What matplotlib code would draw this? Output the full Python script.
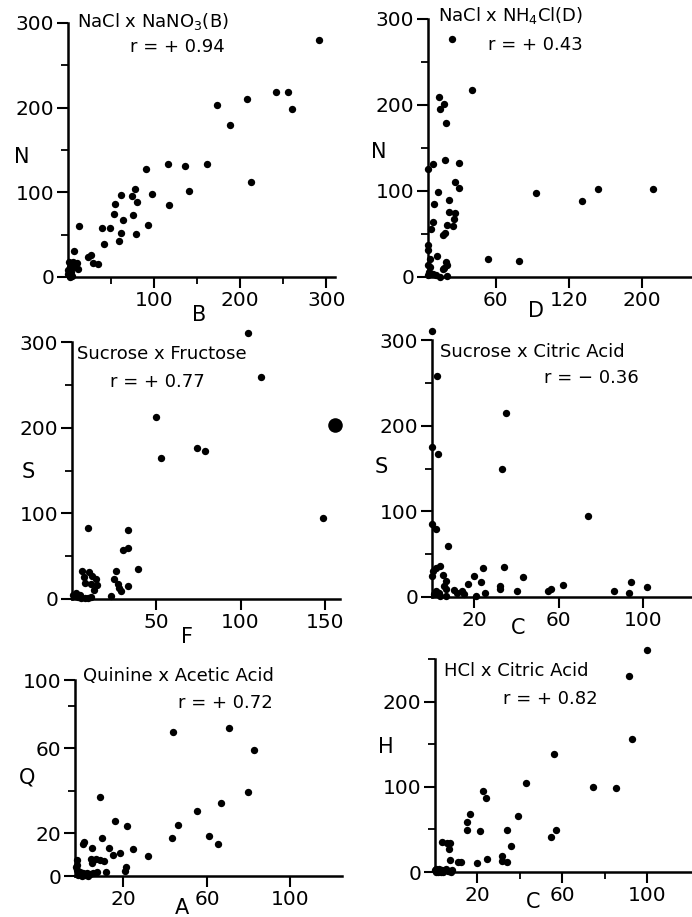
import numpy as np
import matplotlib
matplotlib.use("Agg")
import matplotlib.pyplot as plt

W, H = 692, 917

# NaCl x NaNO3 (B)
b_x = [292, 173, 208, 242, 255, 260, 188, 213, 116, 136, 161, 141, 90, 97, 117, 78, 74, 80, 61, 55, 53, 64,
       75, 61, 59, 79, 93, 39, 49, 42, 13, 27, 23, 29, 35, 7, 1, 6, 10, 2, 8, 0, 4, 12, 1, 5, 0, 2]
b_y = [280, 203, 210, 219, 219, 198, 180, 112, 134, 131, 133, 101, 127, 98, 85, 104, 96, 89, 97, 86, 75, 67,
       73, 52, 43, 51, 61, 58, 58, 39, 60, 26, 24, 17, 15, 31, 18, 18, 16, 12, 12, 8, 6, 9, 2, 1, 4, 0]

# NaCl x NH4Cl (D)
d_x = [21, 39, 10, 14, 11, 16, 15, 27, 4, 0, 24, 27, 9, 19, 5, 19, 24, 23, 22, 17, 15, 13, 4, 3, 93, 134,
       152, 212, 53, 79, 0, 0, 2, 8, 0, 2, 1, 4, 7, 0, 16, 17, 14, 11, 17, 13]
d_y = [277, 217, 209, 201, 195, 179, 136, 133, 131, 126, 111, 103, 99, 89, 85, 76, 74, 67, 59, 60, 51, 49,
       64, 56, 98, 88, 102, 102, 21, 19, 37, 31, 21, 25, 14, 12, 6, 4, 2, 2, 17, 14, 10, 0, 1, 9]

# Sucrose x Fructose
f_x = [104.6, 112, 50, 53, 74, 79, 149, 9.5, 33, 30, 33, 39, 26, 25, 27, 28, 29, 33, 23, 6, 10, 12, 14, 7,
       8, 11, 15, 13, 1.6, 3.6, 5.5, 7.5, 9.5, 11, 0.6, 2.5, 4.5]
f_y = [311, 259, 213, 165, 176, 173, 94, 83, 80, 57, 59, 35, 33, 23, 18, 13, 9, 15, 4, 33, 31, 27, 23, 26,
       19, 18, 16, 11, 3, 2, 1.5, 1, 1, 2, 5, 7, 5]
f_big_x = [156]
f_big_y = [203]

# Sucrose x Citric Acid
c_x = [0, 2.5, 0, 3, 35, 33, 74, 0, 2, 7.5, 0.6, 2, 3.8, 0, 5.4, 6.6, 5.8, 6.6, 2, 3.5, 1, 10.6, 12, 14,
       15, 17, 20, 23, 24, 25, 21, 6.6, 4, 34, 32, 32, 40, 43, 55, 56.5, 62, 86, 93, 94, 101.5]
c_y = [310, 258, 175, 167, 215, 149, 94, 85, 79, 60, 30, 34, 36, 25, 26, 19, 13, 9, 7, 5, 3, 8, 5, 7,
       3, 15, 25, 18, 34, 5, 1, 1, 1, 35, 13, 9, 7, 23, 7, 9, 14, 7, 5, 17, 12]

# Quinine x Acetic Acid
a_x = [44, 70.4, 82.7, 80, 66.9, 55.2, 46.4, 43.5, 61, 65.3, 10.6, 16.8, 21.7, 11.3, 3.7, 3.2, 7.2, 14,
       18.6, 16, 24.8, 31.7, 21.4, 20.8, 12.8, 6.5, 8.7, 10.3, 12, 6.9, 1, 0.7, 0.7, 2.1, 3.4, 4.8, 6.2,
       7.6, 9, 1.4, 2.8, 4.1, 5.5, 0.4]
a_y = [67.6, 69.4, 59.2, 39.2, 34, 30.5, 23.9, 18, 18.7, 14.8, 36.9, 26, 23.6, 18, 16, 15, 13, 13, 11,
       10, 12.5, 9.4, 4, 2.5, 1.9, 7.8, 8.1, 7.5, 7.2, 6.3, 7.5, 5.2, 2.8, 2, 1.25, 1.6, 0.8, 1.25, 2,
       0.5, 0, 0.5, 0, 4]

# HCl x Citric Acid
h_x = [100, 91.4, 92.6, 74.4, 85.4, 56, 42.7, 57, 54.5, 39.2, 34, 36, 22.6, 23.9, 16.5, 15, 15, 21,
       31.4, 31.7, 33.7, 24.6, 19.6, 11, 12.4, 6.9, 3.1, 5.5, 7, 6.6, 0, 0.5, 1, 2, 3.5, 5, 6.5, 8,
       0.3, 1.5, 2.5, 3, 4, 6, 7.5]
h_y = [260, 230, 156, 100, 99, 138, 105, 49.5, 41, 66, 49.5, 30, 95, 87, 68, 58.5, 49.5, 48, 19, 13,
       12, 15, 10, 12, 12, 13.6, 35.5, 33.5, 34, 27, 2, 4, 1, 3, 2, 3, 1, 2, 0, 0, 1, 0, 0, 1, 0]


def px(x, y):
    return x / W, 1 - y / H


def box(l, t, r, b):
    return [l / W, 1 - b / H, (r - l) / W, (b - t) / H]


def bent(ax, which, vals, pos):
    # the printed axes are not quite linear, so follow the tick spacing
    f = lambda v: np.interp(v, vals, pos)
    g = lambda p: np.interp(p, pos, vals)
    if which == "x":
        ax.set_xscale("function", functions=(f, g))
    else:
        ax.set_yscale("function", functions=(f, g))


def panel(rect, x, y, xlim, ylim, xt, yt, xminor=(), yminor=(), xs=None, ys=None):
    ax = fig.add_axes(box(*rect))
    if xs:
        bent(ax, "x", *xs)
    if ys:
        bent(ax, "y", *ys)
    ax.scatter(x, y, s=28, c="black", linewidths=0, clip_on=False, zorder=3)
    ax.set_xlim(*xlim)
    ax.set_ylim(*ylim)
    ax.set_xticks(xt)
    ax.set_yticks(yt)
    ax.set_xticks(list(xminor), minor=True)
    ax.set_yticks(list(yminor), minor=True)
    ax.set_xticklabels([str(v) for v in xt])
    ax.set_yticklabels([str(v) for v in yt])
    for s in ["top", "right"]:
        ax.spines[s].set_visible(False)
    for s in ["left", "bottom"]:
        ax.spines[s].set_linewidth(1.8)
    ax.tick_params(which="major", direction="out", length=8, width=1.5, labelsize=14.5, pad=2)
    ax.tick_params(which="minor", direction="out", length=5, width=1.3)
    ax.patch.set_alpha(0)
    return ax


fig = plt.figure(figsize=(W / 100, H / 100), dpi=100)

panel((68, 23, 335, 277), b_x, b_y, (0, 310), (0, 300), [100, 200, 300], [0, 100, 200, 300],
      xminor=[50, 150, 250], yminor=[50, 150, 250])

panel((428, 19, 692, 277), d_x, d_y, (0, 255), (0, 300), [60, 120, 200], [0, 100, 200, 300],
      yminor=[50, 150, 250],
      xs=([-60, 0, 60, 120, 200, 320], [-68, 0, 68, 141, 214, 324]))

ax = panel((72, 342, 340, 599), f_x, f_y, (0, 159), (0, 300), [50, 100, 150], [0, 100, 200, 300],
           yminor=[50, 150, 250])
ax.scatter(f_big_x, f_big_y, s=110, c="black", linewidths=0, clip_on=False, zorder=3)

panel((432, 340, 692, 597), c_x, c_y, (0, 123), (0, 300), [20, 60, 100], [0, 100, 200, 300],
      yminor=[50, 150, 250])

panel((75, 680, 342, 876), a_x, a_y, (0, 125), (0, 100), [20, 60, 100], [0, 20, 60, 100],
      yminor=[40, 80],
      xs=([-20, 0, 20, 60, 100, 160], [-48, 0, 48, 132, 215, 340]),
      ys=([-20, 0, 20, 40, 60, 80, 100, 140], [-128, 0, 128, 256, 383, 510, 588, 744]))

panel((435, 659, 692, 872), h_x, h_y, (0, 121), (0, 250), [20, 60, 100], [0, 100, 200],
      xminor=[40, 80], yminor=[50, 150, 250])

# panel titles and r values
notes = [
    (77, 22, "NaCl x NaNO$_3$(B)"), (130, 47, "r = + 0.94"),
    (438, 16, "NaCl x NH$_4$Cl(D)"), (488, 45, "r = + 0.43"),
    (77, 354, "Sucrose x Fructose"), (110, 382, "r = + 0.77"),
    (440, 352, "Sucrose x Citric Acid"), (544, 378, "r = \u2212 0.36"),
    (83, 676, "Quinine x Acetic Acid"), (178, 703, "r = + 0.72"),
    (444, 671, "HCl x Citric Acid"), (503, 699, "r = + 0.82"),
]
for x, y, t in notes:
    fig.text(*px(x, y), t, fontsize=13, ha="left", va="center")

# axis letters
letters = [
    (22, 157, "N"), (199, 315, "B"),
    (379, 152, "N"), (536, 311, "D"),
    (28, 472, "S"), (187, 637, "F"),
    (381, 467, "S"), (518, 628, "C"),
    (27, 777, "Q"), (182, 908, "A"),
    (386, 747, "H"), (533, 902, "C"),
]
for x, y, t in letters:
    fig.text(*px(x, y), t, fontsize=15, ha="center", va="center")

fig.savefig("out.png", dpi=100)
